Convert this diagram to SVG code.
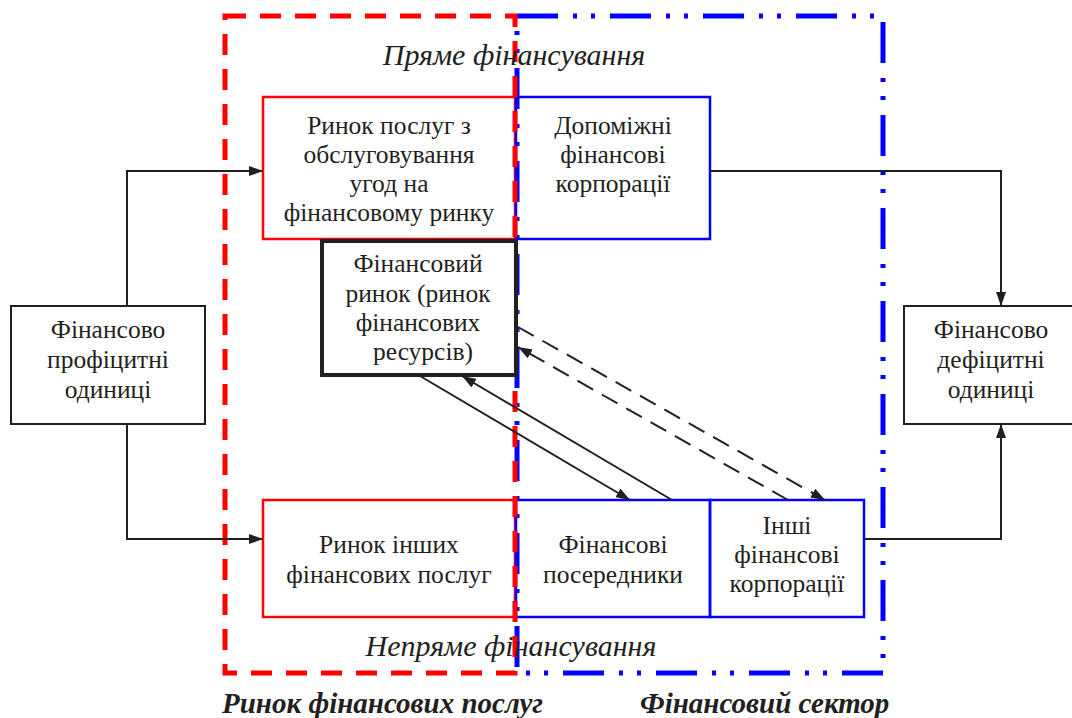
<svg xmlns="http://www.w3.org/2000/svg" width="1072" height="718" viewBox="0 0 1072 718">
<style>
  .t { font-family: "Liberation Serif", "Times New Roman", serif; font-size: 25.5px; fill: #231f20; text-anchor: middle; }
  .it { font-family: "Liberation Serif", "Times New Roman", serif; font-size: 30px; font-style: italic; fill: #231f20; text-anchor: middle; }
  .bi { font-family: "Liberation Serif", "Times New Roman", serif; font-size: 29px; font-style: italic; font-weight: bold; fill: #231f20; }
  .redbox { fill: none; stroke: #ff0000; stroke-width: 2.5; }
  .bluebox { fill: none; stroke: #0000ff; stroke-width: 2.5; }
  .blackbox { fill: #ffffff; stroke: #231f20; stroke-width: 2; }
  .conn { fill: none; stroke: #231f20; stroke-width: 2; }
  .dash { stroke-dasharray: 18 10; }
</style>
<defs>
  <marker id="arr" viewBox="0 0 14 10" refX="14" refY="5" markerWidth="14" markerHeight="10" markerUnits="userSpaceOnUse" orient="auto">
    <path d="M0,0 L14,5 L0,10 z" fill="#231f20"/>
  </marker>
</defs>
<rect width="1072" height="718" fill="#ffffff"/>

<g id="blue-sector">
  <rect x="517" y="16" width="366" height="657" fill="none" stroke="#0000ff" stroke-width="5" stroke-dasharray="41 15 4 14 4 15"/>
</g>

<g id="box-service-market">
  <rect class="redbox" x="263" y="97" width="252" height="142"/>
  <text class="t" x="389" y="134">Ринок послуг з</text>
  <text class="t" x="389" y="163">обслуговування</text>
  <text class="t" x="389" y="192">угод на</text>
  <text class="t" x="389" y="221">фінансовому ринку</text>
</g>
<g id="box-auxiliary">
  <rect class="bluebox" x="516" y="97" width="194" height="142"/>
  <text class="t" x="613" y="134">Допоміжні</text>
  <text class="t" x="613" y="163">фінансові</text>
  <text class="t" x="613" y="192">корпорації</text>
</g>
<g id="box-other-services">
  <rect class="redbox" x="263" y="500" width="252" height="117"/>
  <text class="t" x="389" y="553">Ринок інших</text>
  <text class="t" x="389" y="583">фінансових послуг</text>
</g>
<g id="box-intermediaries">
  <rect class="bluebox" x="516" y="500" width="194" height="117"/>
  <text class="t" x="613" y="553">Фінансові</text>
  <text class="t" x="613" y="583">посередники</text>
</g>
<g id="box-other-corps">
  <rect class="bluebox" x="710" y="500" width="154" height="117"/>
  <text class="t" x="787" y="534">Інші</text>
  <text class="t" x="787" y="563">фінансові</text>
  <text class="t" x="787" y="592">корпорації</text>
</g>

<g id="red-services">
  <rect x="225" y="16" width="290" height="657" fill="none" stroke="#ff0000" stroke-width="5" stroke-dasharray="21 14"/>
</g>

<g id="box-financial-market">
  <rect x="322" y="241" width="194" height="134" fill="#ffffff" stroke="#231f20" stroke-width="4"/>
  <text class="t" x="418" y="272">Фінансовий</text>
  <text class="t" x="418" y="302">ринок (ринок</text>
  <text class="t" x="418" y="331">фінансових</text>
  <text class="t" x="423" y="360">ресурсів)</text>
</g>

<g id="box-surplus">
  <rect class="blackbox" x="11" y="306" width="194" height="118"/>
  <text class="t" x="108" y="338">Фінансово</text>
  <text class="t" x="108" y="368">профіцитні</text>
  <text class="t" x="108" y="398">одиниці</text>
</g>
<g id="box-deficit">
  <rect class="blackbox" x="904" y="306" width="174" height="118"/>
  <text class="t" x="991" y="338">Фінансово</text>
  <text class="t" x="991" y="368">дефіцитні</text>
  <text class="t" x="991" y="398">одиниці</text>
</g>

<g id="connectors">
  <polyline class="conn" points="127,306 127,171 263,171" marker-end="url(#arr)"/>
  <polyline class="conn" points="127,424 127,539 263,539" marker-end="url(#arr)"/>
  <polyline class="conn" points="710,171 1001,171 1001,306" marker-end="url(#arr)"/>
  <polyline class="conn" points="864,539 1001,539 1001,424" marker-end="url(#arr)"/>
  <line class="conn" x1="420" y1="376" x2="630" y2="500" marker-end="url(#arr)"/>
  <line class="conn" x1="672" y1="500" x2="462" y2="376" marker-end="url(#arr)"/>
  <line class="conn dash" x1="518" y1="327" x2="825" y2="500" marker-end="url(#arr)"/>
  <line class="conn dash" x1="788" y1="500" x2="518" y2="347" marker-end="url(#arr)"/>
</g>

<g id="labels">
  <text class="it" x="514" y="65">Пряме фінансування</text>
  <text class="it" x="511" y="656">Непряме фінансування</text>
  <text class="bi" x="222" y="713">Ринок фінансових послуг</text>
  <text class="bi" x="640" y="713">Фінансовий сектор</text>
</g>
</svg>
